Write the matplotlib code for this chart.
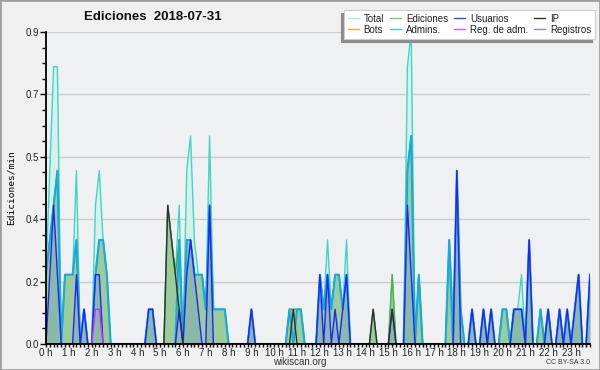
import matplotlib
matplotlib.use('Agg')
import numpy as np
import matplotlib.pyplot as plt
from matplotlib.lines import Line2D
from matplotlib.patches import Rectangle
from matplotlib.ticker import FixedLocator, MultipleLocator, FormatStrFormatter

plt.rcParams['font.family'] = ['Liberation Sans', 'DejaVu Sans']

# edits per 10-minute slot, one row = 4 hours (24 slots)
total_cnt = [
    2, 5, 8, 8, 0, 2, 2, 2, 5, 0, 1, 0, 0, 4, 5, 3, 2, 0, 0, 0, 0, 0, 0, 0,
    0, 0, 0, 1, 1, 0, 0, 0, 4, 3, 2, 4, 0, 5, 6, 3, 2, 2, 1, 6, 1, 1, 1, 1,
    0, 0, 0, 0, 0, 0, 1, 0, 0, 0, 0, 0, 0, 0, 0, 0, 1, 1, 1, 1, 0, 0, 0, 0,
    2, 1, 3, 1, 2, 2, 1, 3, 0, 0, 0, 0, 0, 0, 1, 0, 0, 0, 0, 2, 0, 0, 0, 8,
    9, 0, 2, 0, 0, 0, 0, 0, 0, 0, 3, 1, 0, 1, 0, 0, 1, 0, 0, 1, 0, 1, 0, 0,
    1, 1, 0, 1, 1, 2, 0, 3, 0, 0, 1, 0, 1, 0, 0, 1, 0, 1, 0, 1, 2, 0, 0, 2,
]
edits_cnt = [
    2, 3, 4, 5, 0, 2, 2, 2, 3, 0, 1, 0, 0, 2, 3, 3, 2, 0, 0, 0, 0, 0, 0, 0,
    0, 0, 0, 1, 1, 0, 0, 0, 4, 3, 2, 3, 0, 3, 3, 2, 2, 2, 1, 4, 1, 1, 1, 1,
    0, 0, 0, 0, 0, 0, 1, 0, 0, 0, 0, 0, 0, 0, 0, 0, 1, 1, 1, 1, 0, 0, 0, 0,
    2, 1, 2, 1, 2, 2, 1, 2, 0, 0, 0, 0, 0, 0, 1, 0, 0, 0, 0, 2, 0, 0, 0, 5,
    6, 0, 2, 0, 0, 0, 0, 0, 0, 0, 3, 0, 5, 1, 0, 0, 1, 0, 0, 1, 0, 1, 0, 0,
    1, 1, 0, 1, 1, 1, 0, 3, 0, 0, 1, 0, 1, 0, 0, 1, 0, 1, 0, 1, 2, 0, 0, 2,
]
users_cnt = [
    0, 2, 4, 2, 0, 0, 0, 0, 2, 0, 1, 0, 0, 2, 2, 0, 0, 0, 0, 0, 0, 0, 0, 0,
    0, 0, 0, 1, 1, 0, 0, 0, 0, 0, 0, 1, 0, 2, 3, 2, 1, 0, 0, 4, 0, 0, 0, 0,
    0, 0, 0, 0, 0, 0, 1, 0, 0, 0, 0, 0, 0, 0, 0, 0, 0, 0, 0, 0, 0, 0, 0, 0,
    2, 0, 2, 0, 1, 0, 1, 2, 0, 0, 0, 0, 0, 0, 0, 0, 0, 0, 0, 1, 0, 0, 0, 4,
    2, 0, 0, 0, 0, 0, 0, 0, 0, 0, 0, 0, 5, 0, 0, 0, 1, 0, 0, 1, 0, 1, 0, 0,
    0, 0, 0, 1, 1, 1, 0, 3, 0, 0, 0, 0, 1, 0, 0, 1, 0, 1, 0, 1, 2, 0, 0, 2,
]
ip_cnt = [
    0, 0, 0, 0, 0, 0, 0, 0, 0, 0, 0, 0, 0, 0, 0, 0, 0, 0, 0, 0, 0, 0, 0, 0,
    0, 0, 0, 0, 0, 0, 0, 0, 4, 3, 2, 1, 0, 0, 0, 0, 0, 0, 0, 0, 0, 0, 0, 0,
    0, 0, 0, 0, 0, 0, 0, 0, 0, 0, 0, 0, 0, 0, 0, 0, 0, 1, 0, 0, 0, 0, 0, 0,
    0, 0, 0, 0, 0, 0, 0, 0, 0, 0, 0, 0, 0, 0, 1, 0, 0, 0, 0, 1, 0, 0, 0, 0,
    0, 0, 0, 0, 0, 0, 0, 0, 0, 0, 0, 0, 0, 0, 0, 0, 0, 0, 0, 0, 0, 0, 0, 0,
    0, 0, 0, 0, 0, 0, 0, 0, 0, 0, 0, 0, 0, 0, 0, 0, 0, 0, 0, 0, 0, 0, 0, 0,
]
admins_cnt = [
    2, 3, 4, 5, 0, 2, 2, 2, 3, 0, 1, 0, 0, 2, 3, 3, 2, 0, 0, 0, 0, 0, 0, 0,
    0, 0, 0, 1, 1, 0, 0, 0, 0, 0, 0, 3, 0, 3, 3, 2, 2, 2, 1, 4, 1, 1, 1, 1,
    0, 0, 0, 0, 0, 0, 1, 0, 0, 0, 0, 0, 0, 0, 0, 0, 1, 0, 1, 1, 0, 0, 0, 0,
    2, 1, 2, 1, 2, 2, 1, 2, 0, 0, 0, 0, 0, 0, 0, 0, 0, 0, 0, 0, 0, 0, 0, 5,
    6, 0, 2, 0, 0, 0, 0, 0, 0, 0, 3, 0, 5, 1, 0, 0, 1, 0, 0, 1, 0, 1, 0, 0,
    1, 1, 0, 1, 1, 1, 0, 3, 0, 0, 1, 0, 1, 0, 0, 1, 0, 1, 0, 1, 2, 0, 0, 2,
]
regadm_cnt = [0] * 13 + [1, 1] + [0] * 129
bots_cnt = [0] * 144
logs_cnt = [0] * 144

hour_labels = [f"{h} h" for h in range(24)]

x = np.arange(144)
total = np.array(total_cnt) / 10
edits = np.array(edits_cnt) / 10
users = np.array(users_cnt) / 10
ip = np.array(ip_cnt) / 10
admins = np.array(admins_cnt) / 10
regadm = np.array(regadm_cnt) / 10
bots = np.array(bots_cnt) / 10
logs = np.array(logs_cnt) / 10

fig = plt.figure(figsize=(6, 3.7), dpi=100, facecolor='#f0f0f0')
ax = fig.add_axes([46 / 600, 26 / 370, 544 / 600, 312 / 370])
ax.set_facecolor('#eef0f2')

ax.fill_between(x, total, color='#d6f1ec', lw=0, zorder=1)
ax.plot(x, total, color='#3fd6c6', lw=1.0, zorder=2)
ax.fill_between(x, edits, color='#9acd9a', lw=0, zorder=3)
ax.plot(x, edits, color='#45b545', lw=1.0, zorder=4)
ax.plot(x, bots, color='#ffa030', lw=1.0, zorder=4)
ax.plot(x, logs, color='#8080ff', lw=1.0, zorder=4)
ax.plot(x, admins, color='#1aa9dd', lw=1.5, zorder=5)
ax.fill_between(x, users, color='#3344ff', alpha=0.14, lw=0, zorder=6)
ax.plot(x, users, color='#2222ff', lw=1.0, zorder=7)
ax.plot(x, ip, color='#303030', lw=1.0, zorder=8)
ax.plot(x, regadm, color='#cc33ee', lw=1.0, zorder=9)

ax.set_xlim(0, 143)
ax.set_ylim(0, 0.9)
ax.xaxis.set_major_locator(FixedLocator(np.arange(0, 144, 6)))
ax.set_xticklabels(hour_labels)
ax.xaxis.set_minor_locator(MultipleLocator(1))
ax.yaxis.set_major_locator(FixedLocator(np.linspace(0, 0.9, 6)))
ax.yaxis.set_minor_locator(MultipleLocator(0.045))
ax.yaxis.set_major_formatter(FormatStrFormatter('%.1f'))
ax.tick_params(axis='x', which='both', direction='out', length=2.2, width=1,
               labelsize=7, pad=0.5, colors='black', labelcolor='#222222')
ax.tick_params(axis='y', which='major', direction='out', length=4, width=1,
               labelsize=7, pad=1, labelcolor='#222222')
ax.tick_params(axis='y', which='minor', direction='out', length=3, width=1)
ax.grid(axis='y', which='major', color='#cccccc', lw=1)
ax.set_axisbelow(True)
for s in ['top', 'right']:
    ax.spines[s].set_visible(False)
for s in ['left', 'bottom']:
    ax.spines[s].set_linewidth(1.3)
    ax.spines[s].set_zorder(20)

ax.set_ylabel('Ediciones/min', family='DejaVu Sans Mono', fontsize=6.8, labelpad=7)

fig.text(153 / 600, 1 - 17 / 370, 'Ediciones  2018-07-31', ha='center', va='center',
         fontsize=9.5, fontweight='bold', color='#111111')
fig.text(300 / 600, 1 - 362 / 370, 'wikiscan.org', ha='center', va='center',
         fontsize=7, color='#333333')
fig.text(590 / 600, 1 - 362 / 370, 'CC BY-SA 3.0', ha='right', va='center',
         fontsize=5, color='#333333')

names = ['Total', 'Bots', 'Ediciones', 'Admins.', 'Usuarios', 'Reg. de adm.', 'IP', 'Registros']
colors = ['#a8ece4', '#ffaa33', '#77cc77', '#33ccdd', '#4444ff', '#dd55ff', '#333333', '#8888ff']
handles = [Line2D([], [], color=c, lw=1.0) for c in colors]
leg = fig.legend(handles, names, ncol=4, loc='upper right',
                 bbox_to_anchor=(595 / 600, 1 - 10 / 370), borderaxespad=0,
                 fontsize=7, handlelength=1.2, handletextpad=0.45,
                 columnspacing=0.6, labelspacing=0.1, borderpad=0.4,
                 fancybox=False, frameon=True, facecolor='white',
                 edgecolor='#cccccc', framealpha=1,
                 shadow={'ox': -2, 'oy': -2, 'color': '#8c8c8c', 'alpha': 1})
leg.get_frame().set_linewidth(0.8)
for t in leg.get_texts():
    t.set_color('#222222')

fig.patches.append(Rectangle((0, 0), 1, 1, transform=fig.transFigure, fill=False,
                             edgecolor='#a0a0a0', lw=2))

fig.savefig('out.png', dpi=100, facecolor=fig.get_facecolor())
